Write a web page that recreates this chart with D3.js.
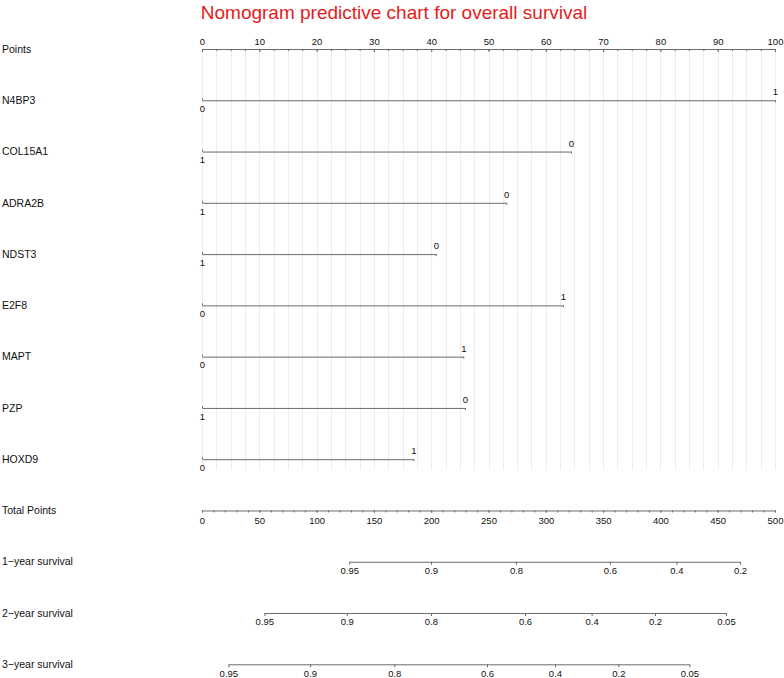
<!DOCTYPE html>
<html>
<head>
<meta charset="utf-8">
<script src="https://cdn.jsdelivr.net/npm/d3@7"></script>
<style>
  body { margin: 0; background: #fff; }
  svg { display: block; font-family: "Liberation Sans", Arial, Helvetica, sans-serif; }
  .axis path, .axis line { stroke: #6b6b6b; stroke-width: 1; }
  .axis text { fill: #111; font-size: 9.5px; font-family: "Liberation Sans", Arial, sans-serif; }
</style>
</head>
<body>
<div id="chart"></div>
<script>
// Nomogram data

var varNames = ["N4BP3", "COL15A1", "ADRA2B", "NDST3", "E2F8", "MAPT", "PZP", "HOXD9"];
var leftLabels = ["0", "1", "1", "1", "0", "0", "1", "0"];   // level at 0 points
var rightLabels = ["1", "0", "0", "0", "1", "1", "0", "1"];  // level at the line end
var rightPoints = [100, 64.4, 53.1, 40.8, 63, 45.6, 45.9, 36.9];

var pointTicks = [0, 10, 20, 30, 40, 50, 60, 70, 80, 90, 100];
var totalTicks = [0, 50, 100, 150, 200, 250, 300, 350, 400, 450, 500];

var survNames = ["1\u2212year survival", "2\u2212year survival", "3\u2212year survival"];
var surv1Labels = ["0.95", "0.9", "0.8", "0.6", "0.4", "0.2"];
var surv1Points = [128.5, 199.8, 274, 356, 414, 469.5];
var surv2Labels = ["0.95", "0.9", "0.8", "0.6", "0.4", "0.2", "0.05"];
var surv2Points = [54.4, 126.3, 199.8, 281.9, 340, 395.3, 457.2];
var surv3Labels = ["0.95", "0.9", "0.8", "0.6", "0.4", "0.2", "0.05"];
var surv3Points = [23, 94.2, 167.8, 248.7, 308, 363.3, 425.3];

var w = 784, h = 678;

var svg = d3.select("#chart")
    .append("svg")
    .attr("width", w)
    .attr("height", h);

// scales
var xPts = d3.scaleLinear().domain([0, 100]).range([202, 775]);
var xTot = d3.scaleLinear().domain([0, 500]).range([202, 775]);
var rowY = d3.scaleLinear().domain([0, 12]).range([49, 664.3]);

// title
svg.append("text")
    .attr("x", 394)
    .attr("y", 19)
    .attr("text-anchor", "middle")
    .attr("font-size", "19px")
    .attr("fill", "#e51b1b")
    .text("Nomogram predictive chart for overall survival");

// vertical grid lines every 2.5 points
var gridVals = d3.range(0, 100.01, 2.5);
svg.append("g")
    .selectAll("line")
    .data(gridVals)
    .enter()
    .append("line")
    .attr("x1", function(d) { return Math.round(xPts(d)) + 0.5; })
    .attr("x2", function(d) { return Math.round(xPts(d)) + 0.5; })
    .attr("y1", rowY(0))
    .attr("y2", 470)
    .attr("stroke", "#ededed")
    .attr("stroke-width", 1);

// row labels on the left
var rowNames = ["Points"].concat(varNames, ["Total Points"], survNames);
svg.append("g")
    .selectAll("text")
    .data(rowNames)
    .enter()
    .append("text")
    .attr("x", 2)
    .attr("y", function(d, i) { return rowY(i); })
    .attr("dy", "0.35em")
    .attr("font-size", "10.5px")
    .attr("fill", "#111")
    .text(function(d) { return d; });

// Points axis (labels on top, ticks hanging down)
svg.append("g")
    .attr("class", "axis")
    .attr("transform", "translate(0," + rowY(0) + ")")
    .call(d3.axisTop(xPts).tickValues(pointTicks).tickSizeInner(-3).tickSizeOuter(0).tickPadding(4));

svg.append("g")
    .attr("class", "axis minor")
    .attr("transform", "translate(0," + rowY(0) + ")")
    .call(d3.axisTop(xPts).tickValues(gridVals).tickSizeInner(-2).tickSizeOuter(0).tickFormat(""))
    .select(".domain").remove();

// one line per variable
varNames.forEach(function(name, i) {
    var sc = d3.scaleLinear().domain([0, rightPoints[i]]).range([xPts(0), xPts(rightPoints[i])]);
    var g = svg.append("g").attr("transform", "translate(0," + rowY(i + 1) + ")");
    g.append("g")
        .attr("class", "axis")
        .call(d3.axisBottom(sc).tickValues([0]).tickSizeInner(-2).tickSizeOuter(0).tickPadding(5)
            .tickFormat(function() { return leftLabels[i]; }));
    g.append("g")
        .attr("class", "axis")
        .call(d3.axisTop(sc).tickValues([rightPoints[i]]).tickSizeInner(-2).tickSizeOuter(0).tickPadding(5)
            .tickFormat(function() { return rightLabels[i]; }))
        .select(".domain").remove();
});

// Total Points axis
svg.append("g")
    .attr("class", "axis")
    .attr("transform", "translate(0," + rowY(9) + ")")
    .call(d3.axisBottom(xTot).tickValues(totalTicks).tickSizeInner(2).tickSizeOuter(0).tickPadding(5));

svg.append("g")
    .attr("class", "axis minor")
    .attr("transform", "translate(0," + rowY(9) + ")")
    .call(d3.axisBottom(xTot).tickValues(d3.range(0, 501, 10)).tickSizeInner(2).tickSizeOuter(0).tickFormat(""))
    .select(".domain").remove();

// survival axes, positioned on the total points scale
var survSets = [
    [surv1Labels, surv1Points],
    [surv2Labels, surv2Points],
    [surv3Labels, surv3Points]
];

survSets.forEach(function(s, k) {
    var labels = s[0], pts = s[1];
    var lo = d3.min(pts), hi = d3.max(pts);
    var sc = d3.scaleLinear().domain([lo, hi]).range([xTot(lo), xTot(hi)]);
    svg.append("g")
        .attr("class", "axis")
        .attr("transform", "translate(0," + rowY(10 + k) + ")")
        .call(d3.axisBottom(sc).tickValues(pts).tickSizeInner(3).tickSizeOuter(0).tickPadding(2.5)
            .tickFormat(function(d, i) { return labels[i]; }));
});
</script>
</body>
</html>
